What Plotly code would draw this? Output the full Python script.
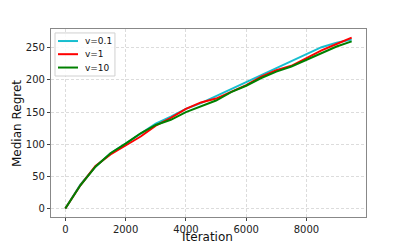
import plotly.graph_objects as go

iterations = list(range(0, 10000, 500))
regret_v01 = [0, 37, 65, 86, 101, 116, 132, 143, 155, 164, 175, 186, 197, 208, 218, 229, 241, 251, 258, 263]
regret_v1 = [0, 36, 66, 84, 98, 112, 129, 141, 155, 165, 171, 182, 192, 205, 215, 222, 234, 246, 256, 266]
regret_v10 = [0, 36, 65, 86, 101, 117, 130, 138, 150, 159, 168, 181, 191, 203, 213, 221, 231, 241, 252, 260]
series_names = ["v=0.1", "v=1", "v=10"]
series_colors = ["#17becf", "#ff0000", "#008000"]

fig = go.Figure()
for name, vals, col in zip(series_names, [regret_v01, regret_v1, regret_v10], series_colors):
    fig.add_trace(go.Scatter(x=iterations, y=vals, mode="lines", name=name,
                             line=dict(color=col, width=2), showlegend=False))

# manual compact legend (matplotlib style) in plot-area paper coordinates
fig.add_shape(type="rect", xref="paper", yref="paper", x0=0.0127, x1=0.203, y0=0.75, y1=0.979,
              line=dict(color="#d0d0d0", width=1), fillcolor="rgba(255,255,255,0.85)", layer="above")
legend_y = [0.936, 0.866, 0.795]
for name, col, ly in zip(series_names, series_colors, legend_y):
    fig.add_shape(type="line", xref="paper", yref="paper", x0=0.0222, x1=0.0857, y0=ly, y1=ly,
                  line=dict(color=col, width=2), layer="above")
    fig.add_annotation(xref="paper", yref="paper", x=0.1016, y=ly, text=name, showarrow=False,
                       xanchor="left", yanchor="middle", font=dict(size=9, color="#111111"))

# axis titles as annotations for exact placement
fig.add_annotation(xref="paper", yref="paper", x=0.498, y=-0.108, text="Iteration", showarrow=False,
                   xanchor="center", yanchor="middle", borderpad=0,
                   font=dict(size=12, color="#111111"))
fig.add_annotation(xref="paper", yref="paper", x=-0.108, y=0.5, text="Median Regret", showarrow=False,
                   textangle=-90, xanchor="center", yanchor="middle", borderpad=0,
                   font=dict(size=12, color="#111111"))

axis_common = dict(
    showline=True, mirror=True, linecolor="#888888", linewidth=1.2,
    ticks="outside", ticklen=3, tickcolor="#444444", tickwidth=1,
    showgrid=True, gridcolor="#dcdcdc", griddash="3px,2px", gridwidth=0.8,
    zeroline=False, tickfont=dict(size=10, color="#222222"), automargin=False,
)

# page body has 8px margin: compensate so the plot area lands at x 51..366, y 29..217
fig.update_layout(
    width=399, height=236,
    margin=dict(l=43, r=41, t=21, b=27),
    paper_bgcolor="white", plot_bgcolor="white",
    font=dict(family="DejaVu Sans", color="#111111"),
    showlegend=False,
    xaxis=dict(range=[-475, 9975], tickvals=[0, 2000, 4000, 6000, 8000], **axis_common),
    yaxis=dict(range=[-13.3, 279.3], tickvals=[0, 50, 100, 150, 200, 250], **axis_common),
)

fig.write_html("out.html")
